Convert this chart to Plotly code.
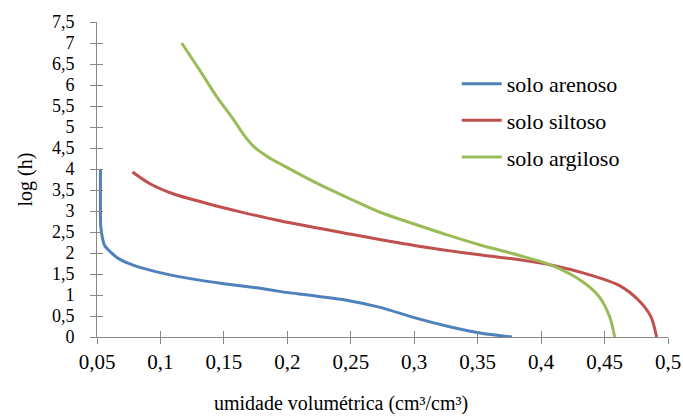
import plotly.graph_objects as go

# Data
arenoso_x = [0.0527, 0.0527, 0.053, 0.056, 0.0654, 0.0785, 0.097, 0.1235, 0.15, 0.176, 0.195, 0.2476, 0.274, 0.300, 0.327, 0.353, 0.377]
arenoso_y = [4.0, 3.2, 2.62, 2.18, 1.90, 1.71, 1.55, 1.39, 1.27, 1.17, 1.08, 0.87, 0.70, 0.46, 0.25, 0.09, 0.0]

siltoso_x = [0.078, 0.0918, 0.110, 0.1367, 0.163, 0.195, 0.2476, 0.300, 0.353, 0.385, 0.4087, 0.435, 0.4615, 0.477, 0.4866, 0.491]
siltoso_y = [3.93, 3.65, 3.41, 3.18, 2.98, 2.76, 2.46, 2.18, 1.95, 1.83, 1.71, 1.51, 1.23, 0.87, 0.48, 0.0]

argiloso_x = [0.1167, 0.131, 0.1446, 0.158, 0.166, 0.174, 0.185, 0.197, 0.224, 0.25, 0.273, 0.30, 0.326, 0.352, 0.383, 0.408, 0.433, 0.446, 0.454, 0.458]
argiloso_y = [7.0, 6.35, 5.71, 5.16, 4.80, 4.52, 4.28, 4.08, 3.65, 3.28, 2.97, 2.69, 2.43, 2.19, 1.94, 1.71, 1.31, 0.95, 0.48, 0.0]

series_names = ["solo arenoso", "solo siltoso", "solo argiloso"]
colors = ["#4F81BD", "#C0504D", "#9BBB59"]
smooth = [0.6, 0.8, 0.9]

x_tickvals = [0.05, 0.1, 0.15, 0.2, 0.25, 0.3, 0.35, 0.4, 0.45, 0.5]
x_ticktext = ["0,05", "0,1", "0,15", "0,2", "0,25", "0,3", "0,35", "0,4", "0,45", "0,5"]
y_tickvals = [0, 0.5, 1, 1.5, 2, 2.5, 3, 3.5, 4, 4.5, 5, 5.5, 6, 6.5, 7, 7.5]
y_ticktext = ["0", "0,5", "1", "1,5", "2", "2,5", "3", "3,5", "4", "4,5", "5", "5,5", "6", "6,5", "7", "7,5"]

FONT = "Liberation Serif, Times New Roman, serif"
AX = "#868686"

fig = go.Figure()
for name, xs, ys, c, sm in zip(series_names,
                               [arenoso_x, siltoso_x, argiloso_x],
                               [arenoso_y, siltoso_y, argiloso_y], colors, smooth):
    fig.add_trace(go.Scatter(x=xs, y=ys, mode="lines", name=name, legendgroup=name,
                             line=dict(color=c, width=3, shape="spline", smoothing=sm)))

# invisible trace on overlay axes for inner tick marks (cross ticks)
fig.add_trace(go.Scatter(x=[None], y=[None], xaxis="x2", yaxis="y2", showlegend=False))

common = dict(showgrid=False, zeroline=False, showline=True, linecolor=AX, linewidth=1,
              tickcolor=AX, ticklen=6, tickwidth=1)

fig.update_layout(
    width=683, height=416,
    margin=dict(l=97, r=15, t=22, b=79, autoexpand=False),
    paper_bgcolor="white", plot_bgcolor="white",
    font=dict(family=FONT, size=21, color="#000000"),
    showlegend=True,
    legend=dict(x=0.63, y=0.87, xanchor="left", yanchor="top",
                bgcolor="rgba(0,0,0,0)", font=dict(size=22, family=FONT),
                traceorder="grouped", tracegroupgap=5, itemwidth=40),
    xaxis=dict(range=[0.05, 0.5], tickvals=x_tickvals, ticktext=x_ticktext,
               ticks="outside", **common),
    yaxis=dict(range=[0, 7.5], tickvals=y_tickvals, ticktext=y_ticktext,
               ticks="outside", ticklabelstandoff=12, tickfont=dict(size=18, family=FONT), **common),
    xaxis2=dict(range=[0.05, 0.5], tickvals=x_tickvals, ticks="inside", showticklabels=False,
                overlaying="x", **common),
    yaxis2=dict(range=[0, 7.5], tickvals=y_tickvals, ticks="inside", showticklabels=False,
                overlaying="y", **common),
    annotations=[
        dict(text="umidade volumétrica (cm³/cm³)", xref="paper", yref="paper",
             x=(341 - 97) / 571, y=(336.7 - 403) / 315, xanchor="center", yanchor="middle",
             showarrow=False, font=dict(size=20, family=FONT)),
        dict(text="log (h)", xref="paper", yref="paper", textangle=-90,
             x=(25 - 97) / 571, y=0.5, xanchor="center", yanchor="middle",
             showarrow=False, font=dict(size=20, family=FONT)),
    ],
)

fig.write_html("out.html", post_script="document.body.style.margin='0';",
               config={"displayModeBar": False})
